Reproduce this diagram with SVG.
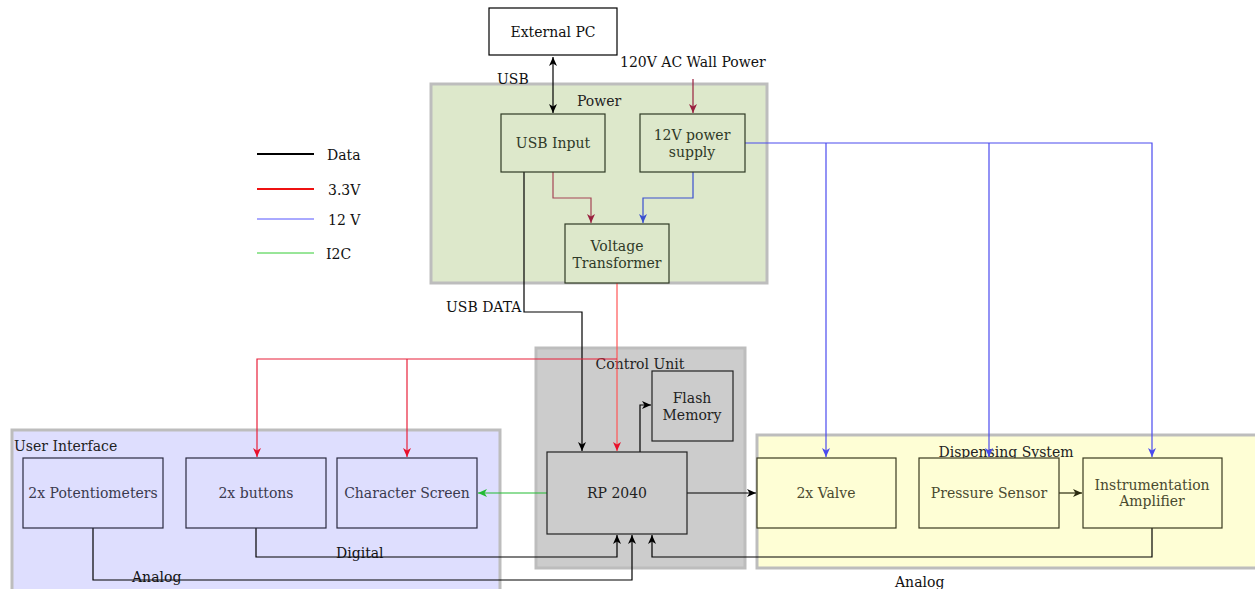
<svg xmlns="http://www.w3.org/2000/svg" width="1255" height="589" viewBox="0 0 1255 589">
<style>
text{font-family:"DejaVu Serif",serif;font-size:14px;}
.c{text-anchor:middle;}
.cont{stroke:#bdbdbd;stroke-width:3;}
.n{stroke-width:1.2;}
.ln{fill:none;stroke-width:1.2;}
</style>
<defs>
<marker id="ak" markerWidth="10" markerHeight="10" refX="9" refY="4" orient="auto" markerUnits="userSpaceOnUse"><path d="M0,0 L9,4 L0,8 L2.5,4 z" fill="#000"/></marker>
<marker id="aks" markerWidth="10" markerHeight="10" refX="0" refY="4" orient="auto" markerUnits="userSpaceOnUse"><path d="M9,0 L0,4 L9,8 L6.5,4 z" fill="#000"/></marker>
<marker id="ar" markerWidth="10" markerHeight="10" refX="9" refY="4" orient="auto" markerUnits="userSpaceOnUse"><path d="M0,0 L9,4 L0,8 L2.5,4 z" fill="#e8102a"/></marker>
<marker id="ab" markerWidth="10" markerHeight="10" refX="9" refY="4" orient="auto" markerUnits="userSpaceOnUse"><path d="M0,0 L9,4 L0,8 L2.5,4 z" fill="#4a4aee"/></marker>
<marker id="ag" markerWidth="10" markerHeight="10" refX="9" refY="4" orient="auto" markerUnits="userSpaceOnUse"><path d="M0,0 L9,4 L0,8 L2.5,4 z" fill="#22bb33"/></marker>
<marker id="adr" markerWidth="10" markerHeight="10" refX="9" refY="4" orient="auto" markerUnits="userSpaceOnUse"><path d="M0,0 L9,4 L0,8 L2.5,4 z" fill="#99203f"/></marker>
<marker id="abb" markerWidth="10" markerHeight="10" refX="9" refY="4" orient="auto" markerUnits="userSpaceOnUse"><path d="M0,0 L9,4 L0,8 L2.5,4 z" fill="#3a4fd0"/></marker>
<marker id="ao" markerWidth="10" markerHeight="10" refX="9" refY="4" orient="auto" markerUnits="userSpaceOnUse"><path d="M0,0 L9,4 L0,8 L2.5,4 z" fill="#2a2a10"/></marker>
</defs>
<rect width="1255" height="589" fill="#fff"/>

<!-- containers -->
<g id="power-container">
<rect class="cont" x="431" y="84" width="336" height="199" fill="#dde8cb"/>
<text class="c" x="599" y="106" fill="#222">Power</text>
</g>
<g id="control-container">
<rect class="cont" x="536" y="348" width="209" height="220" fill="#cccccc"/>
<text class="c" x="640" y="369" fill="#222">Control Unit</text>
</g>
<g id="ui-container">
<rect class="cont" x="12" y="430" width="488" height="165" fill="#dedefe"/>
<text x="14" y="451" fill="#222">User Interface</text>
</g>
<g id="disp-container">
<rect class="cont" x="757" y="435" width="505" height="133" fill="#fefed5"/>
<text class="c" x="1006" y="457" fill="#222">Dispensing System</text>
</g>

<!-- connectors -->
<g id="connectors">
<line x1="553" y1="57" x2="553" y2="113" stroke="#000" class="ln" marker-start="url(#aks)" marker-end="url(#ak)"/>
<line x1="693" y1="79" x2="693" y2="113" stroke="#99203f" class="ln" marker-end="url(#adr)"/>
<polyline points="553,172 553,198 591,198 591,223" stroke="#a54556" class="ln" marker-end="url(#adr)"/>
<polyline points="693,172 693,198 643,198 643,223" stroke="#3a4fd0" class="ln" marker-end="url(#abb)"/>
<polyline points="745,143 1152,143 1152,457" stroke="#4a4aee" class="ln" marker-end="url(#ab)"/>
<polyline points="826,143 826,457" stroke="#4a4aee" class="ln" marker-end="url(#ab)"/>
<polyline points="989,143 989,457" stroke="#4a4aee" class="ln" marker-end="url(#ab)"/>
<polyline points="524,172 524,312 582,312 582,451" stroke="#000" class="ln" marker-end="url(#ak)"/>
<polyline points="617,283 617,451" stroke="#ff5555" class="ln" marker-end="url(#ar)"/>
<polyline points="617,359 257,359 257,457" stroke="#e8203a" class="ln" marker-end="url(#ar)"/>
<polyline points="407,359 407,457" stroke="#e8203a" class="ln" marker-end="url(#ar)"/>
<polyline points="640,452 640,405 651,405" stroke="#000" class="ln" marker-end="url(#ak)"/>
<line x1="547" y1="493" x2="478" y2="493" stroke="#22bb33" class="ln" marker-end="url(#ag)"/>
<line x1="687" y1="493" x2="756" y2="493" stroke="#000" class="ln" marker-end="url(#ak)"/>
<line x1="1059" y1="493" x2="1082" y2="493" stroke="#2a2a10" class="ln" marker-end="url(#ao)"/>
<polyline points="256,528 256,557 617,557 617,535" stroke="#000" class="ln" marker-end="url(#ak)"/>
<polyline points="93,528 93,580 632,580 632,535" stroke="#000" class="ln" marker-end="url(#ak)"/>
<polyline points="1152,528 1152,557 652,557 652,535" stroke="#000" class="ln" marker-end="url(#ak)"/>
</g>

<!-- labels -->
<g id="labels">
<text x="497" y="84" fill="#111">USB</text>
<text x="620" y="67" fill="#111">120V AC Wall Power</text>
<text x="446" y="312" fill="#111">USB DATA</text>
<text x="336" y="558" fill="#111">Digital</text>
<text x="132" y="582" fill="#111">Analog</text>
<text x="895" y="587" fill="#111">Analog</text>
</g>

<!-- legend -->
<g id="legend">
<line x1="257" y1="154" x2="314" y2="154" stroke="#000" stroke-width="2"/>
<text x="327" y="160" fill="#111">Data</text>
<line x1="257" y1="189" x2="314" y2="189" stroke="#ee1111" stroke-width="2"/>
<text x="328" y="195" fill="#111">3.3V</text>
<line x1="257" y1="219" x2="314" y2="219" stroke="#5555ff" stroke-width="1"/>
<text x="328" y="225" fill="#111">12 V</text>
<line x1="257" y1="253" x2="314" y2="253" stroke="#33cc33" stroke-width="1"/>
<text x="326" y="259" fill="#111">I2C</text>
</g>

<!-- nodes -->
<g id="external-pc">
<rect class="n" x="489" y="8" width="128" height="47" fill="#fff" stroke="#000"/>
<text class="c" x="553" y="37" fill="#111">External PC</text>
</g>
<g id="usb-input">
<rect class="n" x="501" y="114" width="104" height="58" fill="#dde8cb" stroke="#2f3a25"/>
<text class="c" x="553" y="148" fill="#2f3a28">USB Input</text>
</g>
<g id="psu-12v">
<rect class="n" x="640" y="114" width="105" height="58" fill="#dde8cb" stroke="#2f3a25"/>
<text class="c" x="692" y="140" fill="#2f3a28">12V power</text>
<text class="c" x="692" y="157" fill="#2f3a28">supply</text>
</g>
<g id="voltage-transformer">
<rect class="n" x="565" y="224" width="104" height="59" fill="#dde8cb" stroke="#2f3a25"/>
<text class="c" x="617" y="251" fill="#2f3a28">Voltage</text>
<text class="c" x="617" y="268" fill="#2f3a28">Transformer</text>
</g>
<g id="flash-memory">
<rect class="n" x="652" y="371" width="81" height="70" fill="#cccccc" stroke="#222"/>
<text class="c" x="692" y="403" fill="#222">Flash</text>
<text class="c" x="692" y="420" fill="#222">Memory</text>
</g>
<g id="rp2040">
<rect class="n" x="547" y="452" width="140" height="82" fill="#cccccc" stroke="#222"/>
<text class="c" x="617" y="498" fill="#222">RP 2040</text>
</g>
<g id="potentiometers">
<rect class="n" x="23" y="458" width="140" height="70" fill="#dedefe" stroke="#2a2a40"/>
<text class="c" x="93" y="498" fill="#3a3a4e">2x Potentiometers</text>
</g>
<g id="buttons">
<rect class="n" x="186" y="458" width="140" height="70" fill="#dedefe" stroke="#2a2a40"/>
<text class="c" x="256" y="498" fill="#3a3a4e">2x buttons</text>
</g>
<g id="character-screen">
<rect class="n" x="337" y="458" width="140" height="70" fill="#dedefe" stroke="#2a2a40"/>
<text class="c" x="407" y="498" fill="#3a3a4e">Character Screen</text>
</g>
<g id="valve">
<rect class="n" x="757" y="458" width="139" height="70" fill="#fefed5" stroke="#3a3a20"/>
<text class="c" x="826" y="498" fill="#4a4a30">2x Valve</text>
</g>
<g id="pressure-sensor">
<rect class="n" x="919" y="458" width="140" height="70" fill="#fefed5" stroke="#3a3a20"/>
<text class="c" x="989" y="498" fill="#4a4a30">Pressure Sensor</text>
</g>
<g id="instrumentation-amplifier">
<rect class="n" x="1083" y="458" width="139" height="70" fill="#fefed5" stroke="#3a3a20"/>
<text class="c" x="1152" y="490" fill="#4a4a30">Instrumentation</text>
<text class="c" x="1152" y="506" fill="#4a4a30">Amplifier</text>
</g>
</svg>
